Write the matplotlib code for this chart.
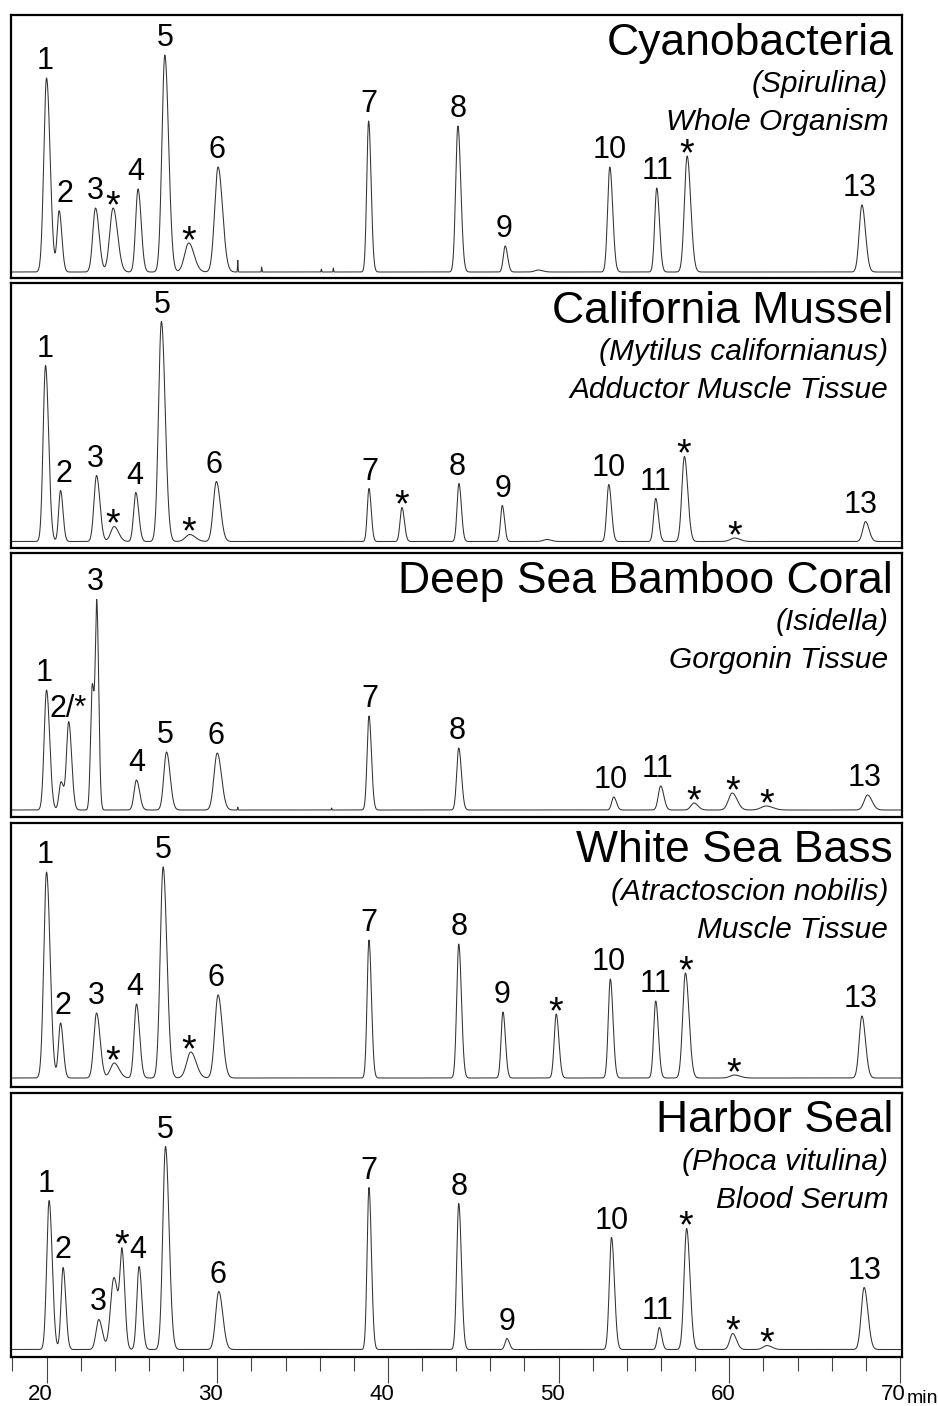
import numpy as np
import matplotlib
matplotlib.use('Agg')
import matplotlib.pyplot as plt
import matplotlib.transforms as mtransforms

plt.rcParams['font.family'] = ['Liberation Sans', 'DejaVu Sans']

# -------- Peak tables --------
# retention time (min), peak height (relative units), peak width (min)

# Cyanobacteria (Spirulina)
cyano_rt = [20.0, 20.74, 22.87, 23.9, 25.36, 26.93, 28.33, 30.05, 38.87, 44.1, 46.87, 53.0, 55.75, 57.53, 67.77,
            31.2, 32.6, 36.1, 36.8, 48.8]
cyano_h = [194, 61, 64, 64, 83, 217, 29, 105, 151, 146, 26, 105, 84, 116, 67, 12, 5, 3, 4, 2]
cyano_w = [0.16, 0.12, 0.16, 0.2, 0.14, 0.17, 0.24, 0.2, 0.11, 0.13, 0.11, 0.13, 0.12, 0.16, 0.16,
           0.015, 0.015, 0.015, 0.015, 0.2]
cyano_lbl = ['1', '2', '3', '*', '4', '5', '*', '6', '7', '8', '9', '10', '11', '*', '13']
cyano_lbl_x = [19.94, 21.07, 22.87, 23.9, 25.23, 26.93, 28.33, 29.99, 38.87, 44.1, 46.79, 53.02, 55.77, 57.53, 67.62]

# California Mussel (Mytilus californianus)
mussel_rt = [19.94, 20.82, 22.93, 23.96, 25.23, 26.73, 28.39, 29.95, 38.89, 40.82, 44.16, 46.70, 52.94, 55.69,
             57.37, 60.3, 67.98, 49.3]
mussel_h = [176, 51, 66, 15, 49, 220, 7, 60, 53, 34, 58, 36, 57, 43, 85, 3.5, 20, 2]
mussel_w = [0.14, 0.11, 0.15, 0.2, 0.13, 0.17, 0.25, 0.18, 0.1, 0.11, 0.11, 0.1, 0.12, 0.12, 0.15, 0.25, 0.16, 0.2]
mussel_lbl = ['1', '2', '3', '*', '4', '5', '*', '6', '7', '*', '8', '9', '10', '11', '*', '*', '13']
mussel_lbl_x = [19.94, 21.01, 22.87, 23.9, 25.17, 26.77, 28.33, 29.81, 38.93, 40.78, 44.04, 46.74, 52.94, 55.7,
                57.34, 60.3, 67.72]

# Deep Sea Bamboo Coral (Isidella)
coral_rt = [20.0, 20.85, 21.3, 22.68, 22.95, 25.27, 27.03, 30.0, 38.89, 44.15, 53.23, 55.98, 57.93, 60.17, 62.16,
            68.1, 31.2, 36.7]
coral_h = [120, 28, 88, 125, 195, 30, 58, 57, 94, 62, 13, 24, 7, 17, 4, 15, 3, 2]
coral_w = [0.14, 0.12, 0.13, 0.1, 0.085, 0.14, 0.16, 0.19, 0.11, 0.12, 0.12, 0.14, 0.18, 0.22, 0.3, 0.2,
           0.015, 0.015]
coral_lbl = ['1', '2/*', '3', '4', '5', '6', '7', '8', '10', '11', '*', '*', '*', '13']
coral_lbl_x = [19.86, 21.27, 22.83, 25.27, 26.97, 29.91, 38.93, 44.06, 53.08, 55.81, 57.93, 60.17, 62.16, 67.9]

# White Sea Bass (Atractoscion nobilis)
bass_rt = [20.0, 20.82, 22.93, 23.96, 25.27, 26.83, 28.45, 30.05, 38.89, 44.15, 46.74, 49.86, 53.03, 55.69, 57.43,
           60.3, 67.77]
bass_h = [206, 55, 65, 15, 74, 211, 26, 83, 138, 134, 66, 64, 99, 77, 105, 3, 62]
bass_w = [0.16, 0.12, 0.16, 0.22, 0.14, 0.17, 0.24, 0.19, 0.11, 0.12, 0.11, 0.12, 0.12, 0.12, 0.16, 0.25, 0.16]
bass_lbl = ['1', '2', '3', '*', '4', '5', '*', '6', '7', '8', '9', '*', '10', '11', '*', '*', '13']
bass_lbl_x = [19.94, 20.97, 22.93, 23.86, 25.17, 26.83, 28.35, 29.91, 38.87, 44.15, 46.68, 49.82, 52.92, 55.7,
              57.47, 60.24, 67.68]

# Harbor Seal (Phoca vitulina)
seal_rt = [20.15, 20.97, 23.06, 23.95, 24.43, 25.42, 26.97, 30.09, 38.89, 44.15, 46.97, 53.1, 55.9, 57.5, 60.2,
           62.2, 67.9]
seal_h = [149, 82, 30, 72, 88, 83, 203, 58, 162, 146, 11, 112, 22, 121, 16, 4, 62]
seal_w = [0.14, 0.12, 0.16, 0.2, 0.12, 0.13, 0.16, 0.18, 0.11, 0.12, 0.11, 0.13, 0.11, 0.15, 0.17, 0.22, 0.17]
seal_lbl = ['1', '2', '3', '*', '4', '5', '6', '7', '8', '9', '10', '11', '*', '*', '*', '13']
seal_lbl_x = [20.0, 20.97, 23.06, 24.39, 25.36, 26.97, 30.05, 38.89, 44.15, 46.97, 53.1, 55.77, 57.45, 60.2,
              62.2, 67.9]

titles = ['Cyanobacteria', 'California Mussel', 'Deep Sea Bamboo Coral', 'White Sea Bass', 'Harbor Seal']
species = ['(Spirulina)', '(Mytilus californianus)', '(Isidella)', '(Atractoscion nobilis)', '(Phoca vitulina)']
tissues = ['Whole Organism', 'Adductor Muscle Tissue', 'Gorgonin Tissue', 'Muscle Tissue', 'Blood Serum']

panels = [(cyano_rt, cyano_h, cyano_w, cyano_lbl, cyano_lbl_x),
          (mussel_rt, mussel_h, mussel_w, mussel_lbl, mussel_lbl_x),
          (coral_rt, coral_h, coral_w, coral_lbl, coral_lbl_x),
          (bass_rt, bass_h, bass_w, bass_lbl, bass_lbl_x),
          (seal_rt, seal_h, seal_w, seal_lbl, seal_lbl_x)]


def trace(rt, h, w, t):
    # sum of slightly tailing peaks
    y = np.zeros_like(t)
    for c, a, s in zip(rt, h, w):
        s_arr = np.where(t < c, s, s * 1.3)
        y += a * np.exp(-0.5 * ((t - c) / s_arr) ** 2)
    return y


# ------ Set up figure layout (pixel based) --------
W, H = 938, 1406
fig = plt.figure(figsize=(W / 100, H / 100), dpi=100)
left_px, right_px = 10.7, 901.7
tops = [15, 283, 552.5, 822.5, 1092.5]
bottoms = [277.5, 547.5, 817, 1087, 1357]
base_pad = [5.5, 6, 7, 9, 7.5]   # baseline height above frame bottom (px)

t = np.linspace(17.9, 70.1, 6000)

axes = []
for i, (rt, h, w, lbl, lbl_x) in enumerate(panels):
    ax = fig.add_axes([left_px / W, 1 - bottoms[i] / H, (right_px - left_px) / W, (bottoms[i] - tops[i]) / H])
    axes.append(ax)
    y = trace(rt, h, w, t)
    ax.plot(t, y, color='#333333', lw=0.75)
    ax.set_xlim(17.9, 70.1)
    ax.set_ylim(-base_pad[i], bottoms[i] - tops[i] - base_pad[i])
    ax.set_yticks([])
    for s in ax.spines.values():
        s.set_linewidth(1.6)
        s.set_color('black')

    # peak labels, sitting just above each peak
    for txt, lx in zip(lbl, lbl_x):
        m = (t > lx - 0.4) & (t < lx + 0.4)
        ytop = y[m].max()
        if txt == '*':
            ax.annotate(txt, xy=(lx, ytop), xytext=(0, -9), textcoords='offset pixels',
                        ha='center', va='baseline', fontsize=27)
        else:
            off = 5 if txt == '2/*' else 9
            ax.annotate(txt, xy=(lx, ytop), xytext=(0, off), textcoords='offset pixels',
                        ha='center', va='baseline', fontsize=22)

    # titles in the top right corner
    ax.annotate(titles[i], xy=(1, 1), xycoords='axes fraction', xytext=(-8.5, -40),
                textcoords='offset pixels', ha='right', va='baseline', fontsize=32)
    ax.annotate(species[i], xy=(1, 1), xycoords='axes fraction', xytext=(-13.5, -77),
                textcoords='offset pixels', ha='right', va='baseline', fontsize=21.5, style='italic')
    ax.annotate(tissues[i], xy=(1, 1), xycoords='axes fraction', xytext=(-13.5, -115),
                textcoords='offset pixels', ha='right', va='baseline', fontsize=21.5, style='italic')

    if i < len(panels) - 1:
        ax.set_xticks([])

# ------ Time axis under the last panel --------
ax = axes[-1]
ax.set_xticks(np.arange(20, 71, 10))
ax.set_xticks([m for m in range(18, 70, 2) if m % 10 != 0], minor=True)
ax.tick_params(axis='x', which='major', direction='out', length=18.5, width=0.8, color='#444444',
               pad=1, labelsize=16)
ax.tick_params(axis='x', which='minor', direction='out', length=10, width=0.8, color='#444444')
shift = mtransforms.ScaledTranslation(-6.5 / 100, 0, fig.dpi_scale_trans)  # labels sit a bit left of ticks
for lab in ax.get_xticklabels():
    lab.set_family(['Liberation Sans Narrow', 'Liberation Sans'])
    lab.set_transform(lab.get_transform() + shift)
ax.annotate('min', xy=(70, 0), xycoords=('data', 'axes fraction'), xytext=(7, -46),
            textcoords='offset pixels', ha='left', va='baseline', fontsize=14)

plt.savefig('out.png', dpi=100)
